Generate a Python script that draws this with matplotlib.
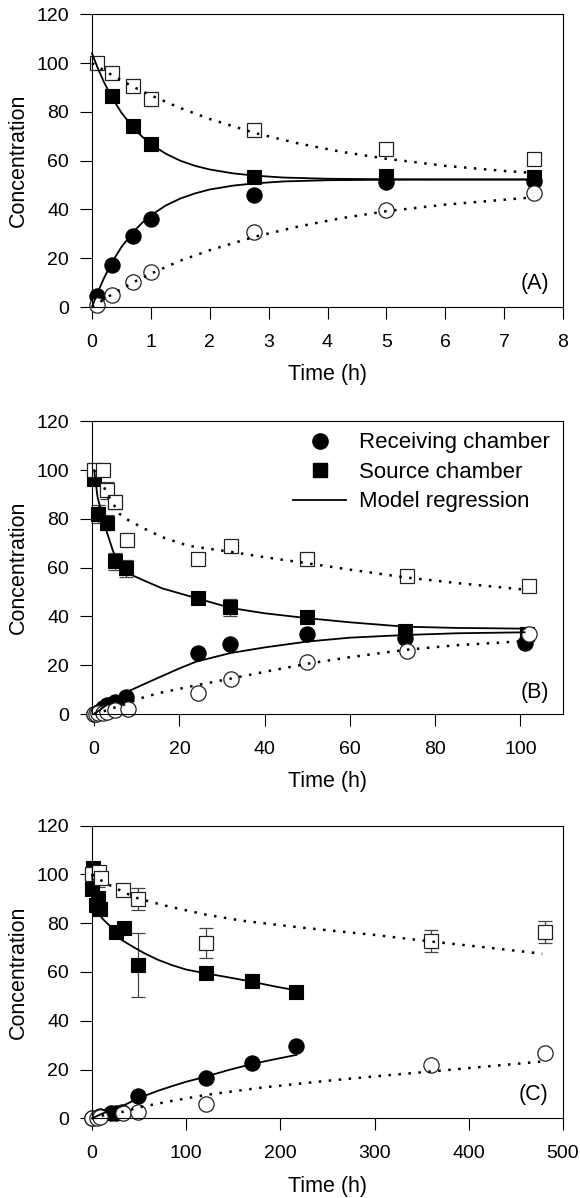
import matplotlib
matplotlib.use("Agg")
import matplotlib.pyplot as plt
import numpy as np
from matplotlib.lines import Line2D

plt.rcParams['font.family'] = ['Liberation Sans', 'DejaVu Sans']

# ---------------- panel A ----------------
a_t = [0.09, 0.34, 0.69, 1.0, 2.76, 5.0, 7.5]
a_recv = [4.6, 17.4, 29.3, 36.2, 45.8, 51.2, 51.6]
a_src_t = [0.34, 0.69, 1.0, 2.76, 5.0, 7.5]
a_src = [86.5, 74.1, 67.0, 53.3, 53.6, 53.4]
a_osrc = [100.1, 95.8, 90.8, 85.1, 72.5, 64.6, 60.5]
a_orecv = [1.0, 5.1, 10.1, 14.2, 30.8, 39.7, 46.8]

a_fit_t = [0, 0.1, 0.2, 0.34, 0.5, 0.69, 0.85, 1.0, 1.25, 1.5, 1.75, 2.0, 2.4,
           2.76, 3.25, 4.0, 5.0, 6.0, 7.5]
a_fit_src = [104, 97.8, 92.4, 85.8, 79.7, 73.8, 69.9, 66.8, 62.9, 60.0, 57.9,
             56.4, 54.8, 53.9, 53.1, 52.6, 52.4, 52.3, 52.3]
a_fit_recv = [0, 6.2, 11.7, 18.4, 24.6, 30.5, 34.5, 37.6, 41.6, 44.5, 46.6,
              48.2, 49.8, 50.7, 51.5, 52.0, 52.2, 52.3, 52.3]
a_dot_t = [0, 0.34, 0.69, 1.0, 1.5, 2.0, 2.76, 3.5, 4.25, 5.0, 6.0, 7.0, 7.5]
a_dot_src = [100, 95.1, 90.4, 86.8, 81.6, 77.1, 71.4, 67.1, 63.6, 60.8, 57.9, 55.8, 55.0]
a_dot_recv = [0, 5.2, 10.0, 13.7, 19.0, 23.3, 28.8, 33.0, 36.5, 39.3, 42.0, 44.0, 45.0]

# ---------------- panel B ----------------
b_recv_t = [0, 1, 2, 3, 5, 7.5, 24.3, 31.8, 49.9, 72.9, 101.2]
b_recv = [0, 1, 2.5, 3.5, 5, 7, 24.9, 28.6, 32.7, 31.1, 29.3]
b_src_t = [0, 1, 3, 5, 7.5, 24.3, 31.8, 49.9, 72.9, 101.5]
b_src = [96.5, 82, 78.5, 62.7, 59.8, 47.7, 43.8, 39.7, 34.2, 33]
b_src_err = [0, 3.5, 3, 3.5, 3.5, 0, 3.5, 0, 0, 0]
b_osrc_t = [0, 2, 3, 5, 7.8, 24.3, 32.1, 49.9, 73.5, 102]
b_osrc = [100, 100, 91.7, 87, 71.5, 63.5, 68.7, 63.5, 56.4, 52.5]
b_osrc_err = [0, 0, 3.5, 3, 0, 0, 0, 0, 0, 0]
b_orecv_t = [0, 0.5, 1, 2, 3, 5, 8, 24.3, 32.1, 49.9, 73.5, 102]
b_orecv = [0, 0.2, 0.3, 0.5, 0.8, 1.6, 2.2, 8.8, 14.3, 21.5, 26, 33]

b_fs_t = [0, 0.8, 2, 3, 4.3, 5.4, 7.8, 12, 16, 24, 32, 40, 50, 60, 73, 85, 101]
b_fit_src = [100, 89, 81, 74.5, 67.5, 62.5, 57.8, 54.5, 51.5, 47.5, 43.5, 41.3,
             39.3, 37.6, 35.8, 35.3, 35]
b_fr_t = [0, 2, 4, 6, 8, 12, 16, 20, 24, 32, 40, 50, 60, 73, 85, 101]
b_fit_recv = [0, 2.5, 5, 7.3, 9.3, 12.5, 15.6, 18.7, 21.5, 25, 27.3, 29.7, 31.3,
              32.4, 33.1, 33.5]
b_ds_t = [0, 2, 4, 6, 8, 12, 16, 22, 32, 40, 50, 60, 73, 85, 101]
b_dot_src = [100, 94, 87.5, 82, 79.5, 75.8, 72.5, 69, 66.5, 64.3, 61.8, 59.2, 56, 53.7, 51]
b_dr_t = [0, 2, 4, 6, 8, 11, 15, 24, 32, 40, 50, 60, 73, 85, 101]
b_dot_recv = [0, 1, 2.2, 3.3, 4.5, 6.5, 8.5, 11.8, 14.5, 17.3, 20.6, 23.3, 26.3, 28.2, 29.9]

# ---------------- panel C ----------------
c_recv_t = [0, 8, 20, 25, 32, 49, 121, 170, 217]
c_recv = [0, 1, 2, 2, 2.5, 9.3, 16.6, 22.8, 29.5]
c_src_t = [0, 1, 4, 6, 9, 25, 34, 49, 121, 170, 217]
c_src = [94, 102.5, 87.5, 90.5, 85.8, 76.2, 78, 62.9, 59.5, 56.5, 51.8]
c_src_err = [0, 0, 0, 4.5, 0, 0, 0, 13, 0, 0, 0]
c_osrc_t = [0, 7, 10, 33.4, 49, 121, 360, 481]
c_osrc = [100.3, 100.8, 98.5, 93.7, 90, 72, 72.6, 76.3]
c_osrc_err = [0, 0, 0, 0, 4.5, 6.2, 4.6, 4.5]
c_orecv_t = [0, 5, 9, 33, 49, 121, 360, 481]
c_orecv = [0, 0.3, 0.5, 2, 2.4, 5.9, 22, 26.8]

c_fs_t = [0, 1.5, 3, 6, 12, 20, 32, 45, 55, 70, 85, 100, 120, 145, 170, 195, 217]
c_fit_src = [100, 93, 88, 84.5, 81.5, 78.5, 73, 70, 67.8, 65, 62.8, 61, 59.5,
             57.8, 56, 54, 52.5]
c_fr_t = [0, 10, 20, 32, 49, 70, 85, 100, 120, 145, 170, 195, 217]
c_fit_recv = [0, 1.8, 3.3, 5, 8.2, 11.3, 13.2, 15, 17, 19.8, 22.3, 24.3, 26]
c_ds_t = [0, 14, 22, 35, 50, 80, 121, 160, 220, 300, 360, 420, 478]
c_dot_src = [100, 96.5, 95, 92.5, 90, 87, 83.5, 81, 78.3, 75.2, 72.5, 70, 67.5]
c_dr_t = [0, 14, 33, 50, 80, 121, 180, 250, 300, 360, 420, 478]
c_dot_recv = [0, 1.4, 2.7, 4.5, 6.8, 9.6, 12.6, 15.4, 17.2, 19.2, 21.3, 23.3]

MS_O, MS_S = 11, 10


def err_bars(ax, t, y, e):
    t, y, e = np.array(t), np.array(y), np.array(e)
    m = e > 0
    if m.any():
        ax.errorbar(t[m], y[m], yerr=e[m], fmt='none', ecolor='#444',
                    elinewidth=0.9, capsize=5, capthick=0.9, zorder=1, clip_on=False)


def pts(ax, t, y, marker, filled):
    ms = MS_O if marker == 'o' else MS_S
    if filled:
        ax.plot(t, y, marker, ms=ms, mfc='black', mec='black', mew=0.8,
                ls='none', zorder=2, clip_on=False)
    else:
        ax.plot(t, y, marker, ms=ms, mfc='white', mec='#222', mew=0.9,
                ls='none', zorder=2.5, clip_on=False)


def style(ax, xlim, xticks, tag, tag_y):
    ax.set_xlim(*xlim)
    ax.set_ylim(0, 120)
    ax.set_xticks(xticks)
    ax.set_yticks(range(0, 121, 20))
    for s in ax.spines.values():
        s.set_linewidth(0.8)
    ax.tick_params(direction='out', length=8.5, width=0.8, labelsize=14)
    ax.tick_params(axis='x', pad=11)
    ax.tick_params(axis='y', pad=8)
    ax.set_ylabel('Concentration', fontsize=15.5)
    ax.set_xlabel('Time (h)', fontsize=15.5)
    ax.yaxis.label.set_va('center')
    ax.yaxis.set_label_coords(-0.157, 0.5)
    ax.xaxis.set_label_coords(0.5, -0.232)
    ax.xaxis.label.set_va('center')
    ax.text(0.97, tag_y, tag, transform=ax.transAxes, ha='right', va='center',
            fontsize=15.5)


fig = plt.figure(figsize=(5.8, 11.98), dpi=100)
L, W, H = 92 / 580, 471 / 580, 0.2443
axA = fig.add_axes([L, 0.7437, W, H])
axB = fig.add_axes([L, 0.4040, W, H])
axC = fig.add_axes([L, 0.0665, W, H])

dotted = dict(color='black', lw=1.8, ls=(0, (1, 3)), zorder=3, clip_on=False)
solid = dict(color='black', lw=1.3, zorder=3, clip_on=False)

# A
pts(axA, a_t, a_recv, 'o', True)
pts(axA, a_src_t, a_src, 's', True)
pts(axA, a_t, a_osrc, 's', False)
pts(axA, a_t, a_orecv, 'o', False)
axA.plot(a_fit_t, a_fit_src, **solid)
axA.plot(a_fit_t, a_fit_recv, **solid)
axA.plot(a_dot_t, a_dot_src, **dotted)
axA.plot(a_dot_t, a_dot_recv, **dotted)
style(axA, (0, 8), range(0, 9), '(A)', 0.082)

# B
err_bars(axB, b_src_t, b_src, b_src_err)
err_bars(axB, b_osrc_t, b_osrc, b_osrc_err)
pts(axB, b_recv_t, b_recv, 'o', True)
pts(axB, b_src_t, b_src, 's', True)
pts(axB, b_osrc_t, b_osrc, 's', False)
pts(axB, b_orecv_t, b_orecv, 'o', False)
axB.plot(b_fs_t, b_fit_src, **solid)
axB.plot(b_fr_t, b_fit_recv, **solid)
axB.plot(b_ds_t, b_dot_src, **dotted)
axB.plot(b_dr_t, b_dot_recv, **dotted)
style(axB, (-0.5, 110), range(0, 101, 20), '(B)', 0.072)
handles = [Line2D([], [], marker='o', ls='none', color='black', ms=MS_O),
           Line2D([], [], marker='s', ls='none', color='black', ms=MS_S),
           Line2D([], [], color='black', lw=1.3)]
axB.legend(handles, ['Receiving chamber', 'Source chamber', 'Model regression'],
           loc='upper right', bbox_to_anchor=(0.995, 1.0), frameon=False,
           fontsize=16, handlelength=2.4, handletextpad=0.55, labelspacing=0.38,
           borderaxespad=0.1, numpoints=1)

# C
err_bars(axC, c_src_t, c_src, c_src_err)
err_bars(axC, c_osrc_t, c_osrc, c_osrc_err)
pts(axC, c_recv_t, c_recv, 'o', True)
pts(axC, c_src_t, c_src, 's', True)
pts(axC, c_osrc_t, c_osrc, 's', False)
pts(axC, c_orecv_t, c_orecv, 'o', False)
axC.plot(c_fs_t, c_fit_src, **solid)
axC.plot(c_fr_t, c_fit_recv, **solid)
axC.plot(c_ds_t, c_dot_src, **dotted)
axC.plot(c_dr_t, c_dot_recv, **dotted)
style(axC, (0, 500), range(0, 501, 100), '(C)', 0.08)

fig.savefig('out.png', dpi=100)
